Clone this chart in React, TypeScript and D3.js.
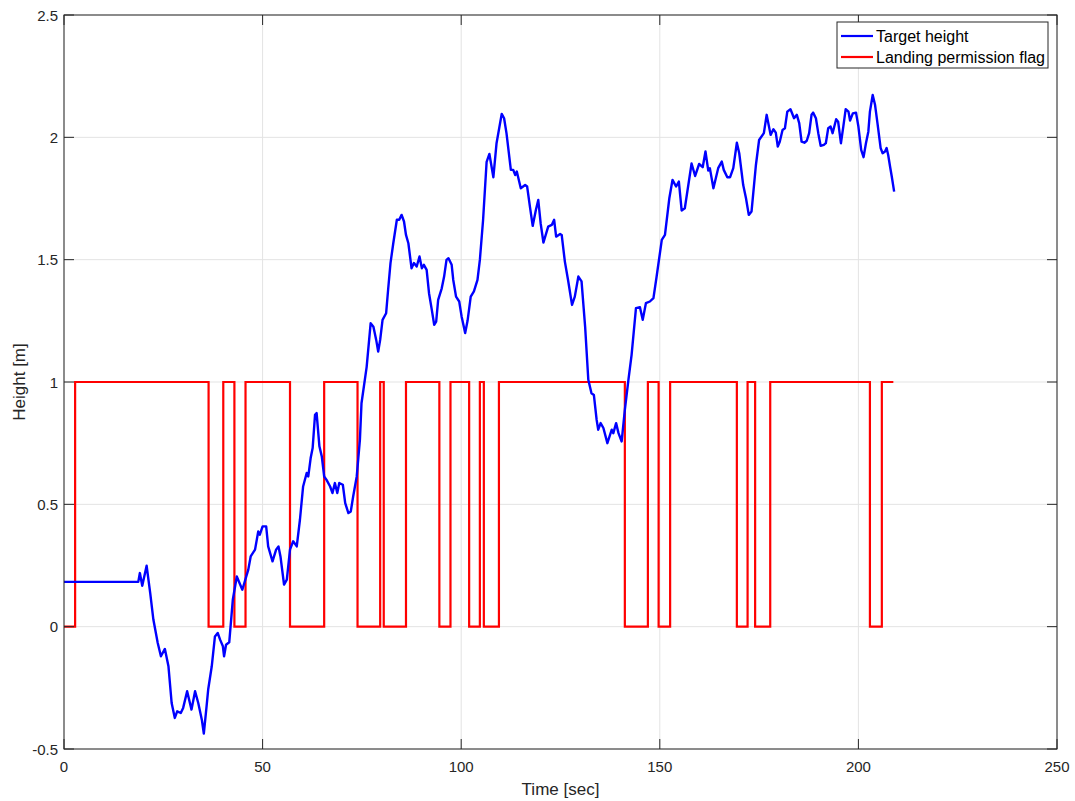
import React from 'react';
import * as d3 from 'd3';

// Target height trace: [time (sec), height (m)]
const targetHeight: [number, number][] = [
  [0, 0.183], [18.7, 0.183], [19.1, 0.219], [19.7, 0.167], [20.8, 0.249], [21.7, 0.138],
  [22.5, 0.029], [23.6, -0.067], [24.4, -0.121], [25.4, -0.091], [26.3, -0.162], [27.1, -0.312],
  [27.9, -0.373], [28.5, -0.346], [29.4, -0.353], [30.0, -0.332], [31.0, -0.264], [32.1, -0.339],
  [33.0, -0.264], [33.8, -0.312], [34.7, -0.38], [35.2, -0.437], [35.9, -0.325], [36.3, -0.257],
  [37.2, -0.162], [38.0, -0.04], [38.7, -0.026], [39.3, -0.053], [40.0, -0.08], [40.3, -0.121],
  [40.8, -0.074], [41.6, -0.064], [42.5, 0.11], [43.5, 0.205], [44.9, 0.151], [46.4, 0.233],
  [47.0, 0.287], [48.1, 0.315], [48.9, 0.389], [49.3, 0.376], [50.0, 0.41], [50.9, 0.41],
  [51.4, 0.328], [52.5, 0.267], [53.4, 0.315], [54.0, 0.328], [54.5, 0.287], [55.4, 0.172],
  [56.1, 0.192], [56.9, 0.315], [57.7, 0.349], [58.6, 0.328], [59.4, 0.437], [60.2, 0.573],
  [61.1, 0.628], [61.5, 0.614], [62.1, 0.689], [62.6, 0.73], [63.2, 0.866], [63.6, 0.873],
  [64.3, 0.737], [64.9, 0.696], [65.5, 0.614], [66.1, 0.6], [67.0, 0.573], [67.6, 0.546],
  [68.2, 0.587], [68.8, 0.546], [69.3, 0.587], [70.2, 0.58], [70.8, 0.505], [71.6, 0.464],
  [72.2, 0.471], [72.8, 0.532], [73.7, 0.614], [74.5, 0.764], [74.9, 0.913], [76.2, 1.062],
  [77.2, 1.24], [77.9, 1.226], [78.6, 1.172], [79.1, 1.124], [79.6, 1.172], [80.2, 1.254],
  [81.1, 1.281], [81.6, 1.377], [82.2, 1.486], [82.9, 1.567], [83.8, 1.663], [84.4, 1.663],
  [85.0, 1.683], [85.6, 1.656], [86.1, 1.601], [86.7, 1.567], [87.5, 1.465], [88.1, 1.486],
  [88.8, 1.472], [89.5, 1.513], [90.1, 1.465], [90.6, 1.479], [91.3, 1.458], [91.9, 1.363],
  [92.6, 1.295], [93.2, 1.234], [93.7, 1.247], [94.2, 1.336], [95.1, 1.383], [95.7, 1.431],
  [96.3, 1.499], [96.8, 1.506], [97.6, 1.479], [98.0, 1.417], [98.7, 1.349], [99.5, 1.329],
  [100.1, 1.268], [101.0, 1.2], [101.6, 1.25], [102.4, 1.349], [103.2, 1.37], [104.1, 1.417],
  [104.7, 1.499], [105.5, 1.66], [106.4, 1.9], [107.1, 1.932], [108.1, 1.837], [108.9, 1.976],
  [110.2, 2.096], [110.8, 2.078], [111.4, 2.017], [112.5, 1.867], [113.1, 1.867], [113.6, 1.846],
  [114.0, 1.86], [115.0, 1.792], [116.1, 1.805], [116.6, 1.799], [117.3, 1.717], [118.0, 1.638],
  [118.8, 1.703], [119.4, 1.744], [120.0, 1.649], [120.7, 1.57], [121.9, 1.635], [122.8, 1.642],
  [123.4, 1.663], [123.9, 1.594], [124.9, 1.605], [125.3, 1.601], [126.1, 1.492], [126.9, 1.417],
  [127.9, 1.315], [128.6, 1.349], [129.5, 1.431], [130.3, 1.411], [131.2, 1.226], [132.0, 1.009],
  [132.8, 0.954], [133.4, 0.947], [134.1, 0.845], [134.5, 0.805], [135.1, 0.832], [135.8, 0.812],
  [136.8, 0.75], [137.9, 0.805], [138.3, 0.791], [139.0, 0.832], [139.6, 0.791], [140.4, 0.757],
  [141.2, 0.886], [142.1, 1.009], [142.9, 1.111], [144.0, 1.302], [145.0, 1.306], [145.7, 1.254],
  [146.5, 1.322], [147.5, 1.329], [148.4, 1.343], [149.2, 1.431], [150.5, 1.581], [151.3, 1.601],
  [152.4, 1.751], [153.2, 1.826], [154.1, 1.799], [154.8, 1.819], [155.5, 1.701], [156.3, 1.71],
  [158.0, 1.893], [158.9, 1.842], [159.9, 1.891], [160.8, 1.878], [161.5, 1.942], [162.2, 1.864],
  [162.6, 1.874], [163.5, 1.792], [164.7, 1.874], [165.6, 1.901], [166.1, 1.867], [167.0, 1.837],
  [167.7, 1.837], [168.5, 1.874], [169.4, 1.978], [170.0, 1.935], [171.0, 1.805], [171.7, 1.751],
  [172.4, 1.683], [173.1, 1.697], [174.2, 1.887], [175.0, 1.989], [176.2, 2.017], [176.9, 2.092],
  [177.9, 2.01], [178.6, 2.033], [179.2, 2.019], [179.7, 1.962], [180.2, 1.982], [180.9, 2.03],
  [181.5, 2.037], [182.1, 2.105], [182.9, 2.115], [183.8, 2.078], [184.5, 2.092], [185.1, 2.058],
  [185.7, 1.982], [186.4, 1.978], [187.0, 1.986], [187.6, 2.017], [188.2, 2.092], [188.6, 2.101],
  [189.3, 2.078], [189.9, 2.017], [190.5, 1.965], [191.3, 1.969], [191.8, 1.976], [192.4, 2.037],
  [193.0, 2.044], [193.5, 2.017], [194.4, 2.074], [194.9, 2.064], [195.6, 1.976], [196.2, 2.044],
  [196.8, 2.115], [197.5, 2.105], [197.9, 2.069], [198.6, 2.098], [199.4, 2.101], [200.0, 2.044],
  [200.7, 1.949], [201.3, 1.919], [201.9, 1.976], [202.5, 2.023], [202.9, 2.105], [203.6, 2.173],
  [204.2, 2.132], [204.8, 2.058], [205.6, 1.956], [206.1, 1.935], [206.7, 1.942], [207.1, 1.956],
  [207.5, 1.928], [208.0, 1.878], [208.4, 1.84], [209.0, 1.778],
];

// Landing permission flag: switch times (sec) and the value held from each time on
const flagTimes = [
  0, 2.8, 36.4, 40.1, 42.9, 45.7, 56.9, 65.5, 73.9, 79.6, 80.5, 86.1, 94.5, 97.3, 102.0,
  104.7, 105.7, 109.5, 141.2, 147.0, 149.7, 152.6, 169.4, 172.1, 174.0, 177.8, 202.9, 205.9, 208.8,
];
const flagValues = [
  0, 1, 0, 1, 0, 1, 0, 1, 0, 1, 0, 1, 0, 1, 0, 1, 0, 1, 0, 1, 0, 1, 0, 1, 0, 1, 0, 1, 1,
];

const xTicks = [0, 50, 100, 150, 200, 250];
const yTicks = [-0.5, 0, 0.5, 1, 1.5, 2, 2.5];
const legendItems = [
  { label: 'Target height', color: '#0000ff' },
  { label: 'Landing permission flag', color: '#ff0000' },
];

const WIDTH = 1075;
const HEIGHT = 801;
const M = { left: 64, right: 1057, top: 15, bottom: 749 };
const AXIS = '#262626';
const GRID = '#e3e3e3';
const FONT = '"Liberation Sans", Arial, Helvetica, sans-serif';

export default function App() {
  const x = d3.scaleLinear().domain([0, 250]).range([M.left, M.right]);
  const y = d3.scaleLinear().domain([-0.5, 2.5]).range([M.bottom, M.top]);

  const heightLine = d3.line<[number, number]>()
    .x(d => x(d[0]))
    .y(d => y(d[1]));

  const flagData = flagTimes.map((t, i) => [t, flagValues[i]] as [number, number]);
  const flagLine = d3.line<[number, number]>()
    .x(d => x(d[0]))
    .y(d => y(d[1]))
    .curve(d3.curveStepAfter);

  const tickLen = 10;
  const fmt = (v: number) => String(v);

  // legend box
  const lg = { x0: 837, y0: 22, x1: 1048, y1: 68 };

  return (
    <svg
      width={WIDTH}
      height={HEIGHT}
      style={{ position: 'absolute', left: 0, top: 0, background: '#fff' }}
      fontFamily={FONT}
    >
      <rect x={0} y={0} width={WIDTH} height={HEIGHT} fill="#fff" />

      {/* grid */}
      {xTicks.map(t => (
        <line key={'gx' + t} x1={x(t)} x2={x(t)} y1={M.top} y2={M.bottom} stroke={GRID} strokeWidth={1} />
      ))}
      {yTicks.map(t => (
        <line key={'gy' + t} x1={M.left} x2={M.right} y1={y(t)} y2={y(t)} stroke={GRID} strokeWidth={1} />
      ))}

      {/* series */}
      <path d={flagLine(flagData) || ''} fill="none" stroke="#ff0000" strokeWidth={2.2} />
      <path d={heightLine(targetHeight) || ''} fill="none" stroke="#0000ff" strokeWidth={2.4} strokeLinejoin="round" />

      {/* box */}
      <rect x={M.left} y={M.top} width={M.right - M.left} height={M.bottom - M.top} fill="none" stroke={AXIS} strokeWidth={1} />

      {/* ticks */}
      {xTicks.map(t => (
        <g key={'tx' + t}>
          <line x1={x(t)} x2={x(t)} y1={M.bottom} y2={M.bottom - tickLen} stroke={AXIS} />
          <line x1={x(t)} x2={x(t)} y1={M.top} y2={M.top + tickLen} stroke={AXIS} />
          <text x={x(t)} y={772} textAnchor="middle" fontSize={15} fill={AXIS}>{fmt(t)}</text>
        </g>
      ))}
      {yTicks.map(t => (
        <g key={'ty' + t}>
          <line x1={M.left} x2={M.left + tickLen} y1={y(t)} y2={y(t)} stroke={AXIS} />
          <line x1={M.right} x2={M.right - tickLen} y1={y(t)} y2={y(t)} stroke={AXIS} />
          <text x={58} y={y(t) + 5.5} textAnchor="end" fontSize={15} fill={AXIS}>{fmt(t)}</text>
        </g>
      ))}

      {/* axis labels */}
      <text x={(M.left + M.right) / 2} y={795} textAnchor="middle" fontSize={17} fill={AXIS}>Time [sec]</text>
      <text
        transform={`translate(25, ${(M.top + M.bottom) / 2}) rotate(-90)`}
        textAnchor="middle"
        fontSize={17}
        fill={AXIS}
      >
        Height [m]
      </text>

      {/* legend */}
      <rect x={lg.x0} y={lg.y0} width={lg.x1 - lg.x0} height={lg.y1 - lg.y0} fill="#fff" stroke={AXIS} strokeWidth={1} />
      {legendItems.map((item, i) => {
        const cy = 36 + i * 21;
        return (
          <g key={item.label}>
            <line x1={841} x2={873} y1={cy} y2={cy} stroke={item.color} strokeWidth={2.2} />
            <text x={876} y={cy + 6} fontSize={16} fill="#000">{item.label}</text>
          </g>
        );
      })}
    </svg>
  );
}
